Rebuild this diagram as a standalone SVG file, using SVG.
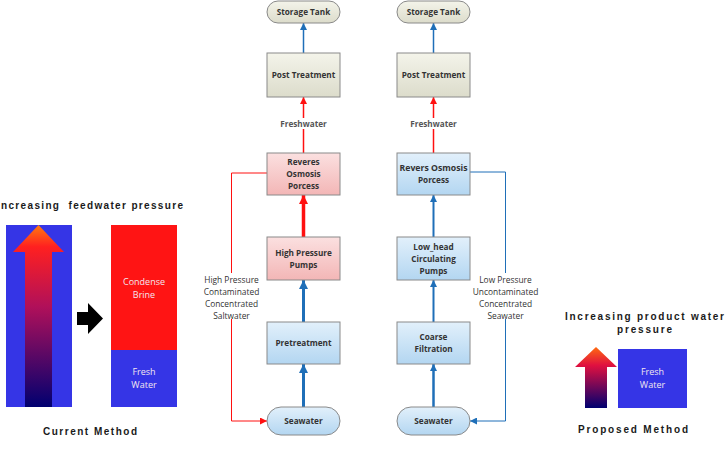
<svg xmlns="http://www.w3.org/2000/svg" width="727" height="450" viewBox="0 0 727 450">
<style>
.box{stroke:#8a8a8a;stroke-width:1}
.lbl{font-family:"Open Sans","Liberation Sans",sans-serif;font-size:8.2px;font-weight:bold;fill:#333333;text-anchor:middle}
.side{font-family:"Open Sans","Liberation Sans",sans-serif;font-size:8.4px;fill:#333333;text-anchor:middle}
.title{font-family:"Liberation Sans",Arial,sans-serif;font-size:10px;font-weight:bold;fill:#1a1a1a}
.wt{font-family:"Open Sans","Liberation Sans",sans-serif;font-size:9px;fill:#f3e6ee;text-anchor:middle}
.blue{stroke:#1f6fb8;fill:none}
.red{stroke:#ff1010;fill:none}
</style>
<defs>
<linearGradient id="gPink" x1="0" y1="0" x2="0" y2="1"><stop offset="0" stop-color="#fbe0e0"/><stop offset="1" stop-color="#f3b6b6"/></linearGradient>
<linearGradient id="gBlue" x1="0" y1="0" x2="0" y2="1"><stop offset="0" stop-color="#e2f0fb"/><stop offset="1" stop-color="#b3d6f1"/></linearGradient>
<linearGradient id="gGray" x1="0" y1="0" x2="0" y2="1"><stop offset="0" stop-color="#f4f4ea"/><stop offset="1" stop-color="#dcdccb"/></linearGradient>
<linearGradient id="gArrow" x1="0" y1="0" x2="0" y2="1"><stop offset="0" stop-color="#ff7a10"/><stop offset="0.12" stop-color="#ff2020"/><stop offset="0.45" stop-color="#b0105a"/><stop offset="1" stop-color="#000070"/></linearGradient>
<linearGradient id="gArrow2" x1="0" y1="0" x2="0" y2="1"><stop offset="0" stop-color="#ff6a10"/><stop offset="0.3" stop-color="#e01040"/><stop offset="1" stop-color="#000070"/></linearGradient>
<marker id="mBlue" viewBox="0 0 10 10" refX="10" refY="5" markerUnits="userSpaceOnUse" markerWidth="8" markerHeight="7" orient="auto"><path d="M0,0 L10,5 L0,10 z" fill="#1f6fb8"/></marker>
<marker id="mRed" viewBox="0 0 10 10" refX="10" refY="5" markerUnits="userSpaceOnUse" markerWidth="8" markerHeight="7" orient="auto"><path d="M0,0 L10,5 L0,10 z" fill="#ff1010"/></marker>
<marker id="mBlueB" viewBox="0 0 10 10" refX="10" refY="5" markerUnits="userSpaceOnUse" markerWidth="9" markerHeight="9" orient="auto"><path d="M0,0 L10,5 L0,10 z" fill="#1f6fb8"/></marker>
<marker id="mRedB" viewBox="0 0 10 10" refX="10" refY="5" markerUnits="userSpaceOnUse" markerWidth="9" markerHeight="9" orient="auto"><path d="M0,0 L10,5 L0,10 z" fill="#ff1010"/></marker>
</defs>
<rect width="727" height="450" fill="#ffffff"/>

<!-- Current method -->
<g id="current-method">
<text class="title" x="1" y="209" textLength="182" lengthAdjust="spacing" xml:space="preserve">ncreasing  feedwater pressure</text>
<rect x="6" y="225" width="66" height="182" fill="#3535e6"/>
<polygon points="25,407 25,252 13,252 38.5,225 64,252 52,252 52,407" fill="url(#gArrow)"/>
<polygon points="77,312 88,312 88,303 103,318.5 88,334 88,325 77,325" fill="#000"/>
<rect x="111" y="225" width="66" height="125" fill="#ff1414"/>
<rect x="111" y="350" width="66" height="57" fill="#3535e6"/>
<text class="wt" x="144" y="285">Condense</text>
<text class="wt" x="144" y="298">Brine</text>
<text class="wt" x="144" y="375">Fresh</text>
<text class="wt" x="144" y="388">Water</text>
<text class="title" x="43" y="435" textLength="94" lengthAdjust="spacing">Current Method</text>
</g>

<!-- Connectors -->
<g id="connectors">
<line class="blue" x1="303.5" y1="53" x2="303.5" y2="23" stroke-width="1.5" marker-end="url(#mBlue)"/>
<line class="red" x1="303.5" y1="153" x2="303.5" y2="97" stroke-width="1.5" marker-end="url(#mRed)"/>
<line class="red" x1="303.5" y1="237" x2="303.5" y2="195" stroke-width="3.5" marker-end="url(#mRedB)"/>
<line class="blue" x1="303.5" y1="322" x2="303.5" y2="280" stroke-width="3" marker-end="url(#mBlueB)"/>
<line class="blue" x1="303.5" y1="407" x2="303.5" y2="364" stroke-width="3" marker-end="url(#mBlueB)"/>
<polyline class="red" points="267,173 231.5,173 231.5,421 267,421" stroke-width="1" marker-end="url(#mRed)"/>

<line class="blue" x1="433.5" y1="53" x2="433.5" y2="23" stroke-width="1.5" marker-end="url(#mBlue)"/>
<line class="red" x1="433.5" y1="153" x2="433.5" y2="97" stroke-width="1.5" marker-end="url(#mRed)"/>
<line class="blue" x1="433.5" y1="237" x2="433.5" y2="195" stroke-width="2" marker-end="url(#mBlue)"/>
<line class="blue" x1="433.5" y1="322" x2="433.5" y2="280" stroke-width="2" marker-end="url(#mBlue)"/>
<line class="blue" x1="433.5" y1="407" x2="433.5" y2="364" stroke-width="2.5" marker-end="url(#mBlue)"/>
<polyline class="blue" points="470,172 505.5,172 505.5,421 470,421" stroke-width="1" marker-end="url(#mBlue)"/>

<rect x="278" y="118" width="51" height="11" fill="#fff"/>
<text class="lbl" x="303.5" y="127" style="fill:#555">Freshwater</text>
<rect x="408" y="118" width="51" height="11" fill="#fff"/>
<text class="lbl" x="433.5" y="127" style="fill:#555">Freshwater</text>

<rect x="199" y="273" width="65" height="46" fill="#fff"/>
<text class="side" x="231.5" y="283">High Pressure</text>
<text class="side" x="231.5" y="295">Contaminated</text>
<text class="side" x="231.5" y="307">Concentrated</text>
<text class="side" x="231.5" y="319">Saltwater</text>
<rect x="469" y="273" width="74" height="46" fill="#fff"/>
<text class="side" x="505.5" y="283">Low Pressure</text>
<text class="side" x="505.5" y="295">Uncontaminated</text>
<text class="side" x="505.5" y="307">Concentrated</text>
<text class="side" x="505.5" y="319">Seawater</text>
</g>

<!-- Left column nodes -->
<g id="storage-1"><rect class="box" x="267" y="1" width="73" height="22" rx="11" fill="url(#gGray)"/><text class="lbl" x="303.5" y="15">Storage Tank</text></g>
<g id="post-1"><rect class="box" x="267" y="53" width="73" height="44" fill="url(#gGray)"/><text class="lbl" x="303.5" y="78">Post Treatment</text></g>
<g id="ro-1"><rect class="box" x="267" y="153" width="73" height="42" fill="url(#gPink)"/><text class="lbl" x="303.5" y="165">Reveres</text><text class="lbl" x="303.5" y="177">Osmosis</text><text class="lbl" x="303.5" y="189">Porcess</text></g>
<g id="hpp-1"><rect class="box" x="267" y="237" width="73" height="43" fill="url(#gPink)"/><text class="lbl" x="303.5" y="256">High Pressure</text><text class="lbl" x="303.5" y="268">Pumps</text></g>
<g id="pre-1"><rect class="box" x="267" y="322" width="73" height="42" fill="url(#gBlue)"/><text class="lbl" x="303.5" y="346">Pretreatment</text></g>
<g id="sea-1"><rect class="box" x="267" y="407" width="73" height="28" rx="14" fill="url(#gBlue)"/><text class="lbl" x="303.5" y="424">Seawater</text></g>

<!-- Right column nodes -->
<g id="storage-2"><rect class="box" x="397" y="1" width="73" height="22" rx="11" fill="url(#gGray)"/><text class="lbl" x="433.5" y="15">Storage Tank</text></g>
<g id="post-2"><rect class="box" x="397" y="53" width="73" height="44" fill="url(#gGray)"/><text class="lbl" x="433.5" y="78">Post Treatment</text></g>
<g id="ro-2"><rect class="box" x="397" y="153" width="73" height="42" fill="url(#gBlue)"/><text class="lbl" x="433.5" y="171" textLength="68" lengthAdjust="spacingAndGlyphs">Revers Osmosis</text><text class="lbl" x="433.5" y="183">Porcess</text></g>
<g id="lhp-2"><rect class="box" x="397" y="237" width="73" height="43" fill="url(#gBlue)"/><text class="lbl" x="433.5" y="250">Low_head</text><text class="lbl" x="433.5" y="262">Circulating</text><text class="lbl" x="433.5" y="274">Pumps</text></g>
<g id="cf-2"><rect class="box" x="397" y="322" width="73" height="42" fill="url(#gBlue)"/><text class="lbl" x="433.5" y="340">Coarse</text><text class="lbl" x="433.5" y="352">Filtration</text></g>
<g id="sea-2"><rect class="box" x="397" y="407" width="73" height="28" rx="14" fill="url(#gBlue)"/><text class="lbl" x="433.5" y="424">Seawater</text></g>

<!-- Proposed method -->
<g id="proposed-method">
<text class="title" x="565" y="320" textLength="159" lengthAdjust="spacing">Increasing product water</text>
<text class="title" x="617" y="333" textLength="55" lengthAdjust="spacing">pressure</text>
<polygon points="585,408 585,367 575,367 596,347 617,367 607,367 607,408" fill="url(#gArrow2)"/>
<rect x="618" y="349" width="69" height="59" fill="#3535e6"/>
<text class="wt" x="652.5" y="375">Fresh</text>
<text class="wt" x="652.5" y="388">Water</text>
<text class="title" x="578" y="433" textLength="110" lengthAdjust="spacing">Proposed Method</text>
</g>
</svg>
